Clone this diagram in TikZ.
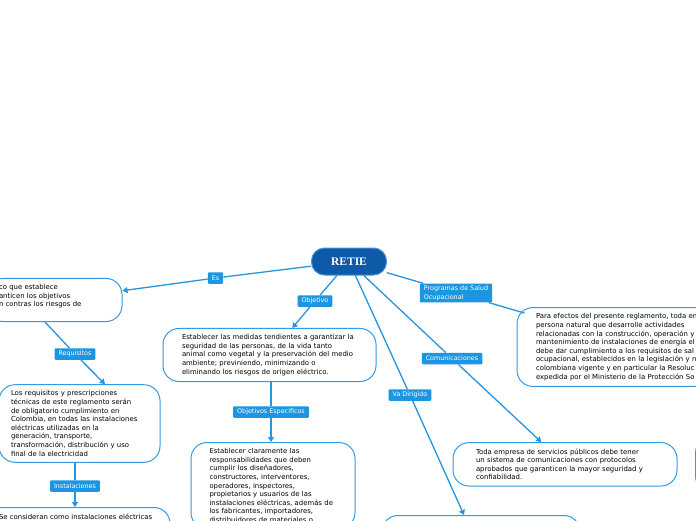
\documentclass[tikz,border=0pt]{standalone}
\usepackage{fontspec}
\setmainfont{DejaVu Sans}
\newfontfamily\retieserif{Liberation Serif}
\usetikzlibrary{arrows.meta,calc}
\definecolor{lineblue}{RGB}{35,150,225}
\definecolor{nodeblue}{RGB}{50,155,230}
\definecolor{tagblue}{RGB}{28,150,225}
\definecolor{retieblue}{RGB}{14,90,168}
\definecolor{retieline}{RGB}{70,145,215}
\newcommand{\ideafont}{\fontsize{6.9}{8.6}\selectfont}
\newcommand{\tagfont}{\fontsize{6.4}{8.6}\selectfont}
\newcommand{\retiefont}{\retieserif\bfseries\fontsize{11.5}{12}\selectfont}
\begin{document}
\begin{tikzpicture}[x=1pt,y=-1pt,
  idea/.style={draw=nodeblue,fill=white,line width=1pt,rounded corners=16pt,font=\ideafont,align=left,inner ysep=6pt},
  tag/.style={fill=tagblue,text=white,font=\tagfont,inner xsep=4pt,inner ysep=2pt,minimum height=11.5pt,rounded corners=1pt},
  link/.style={draw=lineblue,line width=1.3pt},
  pfeil/.style={link,-{Triangle[length=5pt,width=6pt]}}]
  \useasboundingbox (0,0) rectangle (696,520);
  \fill[white] (0,0) rectangle (696,520);
  \clip (0,0) rectangle (696,520);
  % Hauptknoten
  \node[fill=retieblue,draw=retieline,line width=1pt,rounded corners=13pt,minimum width=75pt,minimum height=27pt,text=white,font=\retiefont] (retie) at (349,261.5) {RETIE};
  % Kästen
  \node[idea,text width=111pt,inner xsep=12pt] (tecnico) at (54.5,300)
   {co que establece\\anticen los objetivos\\n contras los riesgos de\\\mbox{}};
  \node[idea,text width=137pt,inner xsep=12pt] (requisitos) at (79.5,423.5)
   {Los requisitos y prescripciones\\técnicas de este reglamento serán\\de obligatorio cumplimiento en\\Colombia, en todas las instalaciones\\eléctricas utilizadas en la\\generación, transporte,\\transformación, distribución y uso\\final de la electricidad};
  \node[idea,text width=155pt,inner xsep=16pt,anchor=north] (instbox) at (76.5,507)
   {Se consideran como instalaciones eléctricas\\\mbox{}\\\mbox{}};
  \node[idea,text width=175pt,inner xsep=19pt] (objetivo) at (269.5,355)
   {Establecer las medidas tendientes a garantizar la\\seguridad de las personas, de la vida tanto\\animal como vegetal y la preservación del medio\\ambiente; previniendo, minimizando o\\eliminando los riesgos de origen eléctrico.};
  \node[idea,text width=127pt,inner xsep=18.5pt,anchor=north] (especificos) at (273,442)
   {Establecer claramente las\\responsabilidades que deben\\cumplir los diseñadores,\\constructores, interventores,\\operadores, inspectores,\\propietarios y usuarios de las\\instalaciones eléctricas, además de\\los fabricantes, importadores,\\distribuidores de materiales o};
  \node[idea,text width=260pt,inner xsep=19pt] (salud) at (666,347)
   {Para efectos del presente reglamento, toda em\\persona natural que desarrolle actividades\\relacionadas con la construcción, operación y\\mantenimiento de instalaciones de energía el\\debe dar cumplimiento a los requisitos de sal\\ocupacional, establecidos en la legislación y n\\colombiana vigente y en particular la Resoluc\\expedida por el Ministerio de la Protección So};
  \node[idea,text width=178pt,inner xsep=23pt] (comunic) at (565,464.3)
   {Toda empresa de servicios públicos debe tener\\un sistema de comunicaciones con protocolos\\aprobados que garanticen la mayor seguridad y\\confiabilidad.};
  \node[idea,minimum width=198pt,minimum height=40pt,anchor=north] (dirigido) at (481,515) {};
  \node[idea,minimum width=60pt,minimum height=55pt,anchor=west] (rechts) at (695,464.5) {};
  % Beschriftungen
  \node[tag] (es) at (215.5,278) {Es};
  \node[tag] (objlbl) at (315,301) {Objetivo};
  \node[tag] (reqlbl) at (75,354) {Requisitos};
  \node[tag] (instlbl) at (75,486) {Instalaciones};
  \node[tag] (especlbl) at (271,412) {Objetivos Especificos};
  \node[tag,align=left] (saludlbl) at (456,293) {Programas de Salud\\Ocupacional};
  \node[tag] (commlbl) at (452,358.5) {Comunicaciones};
  \node[tag] (dirlbl) at (410,395) {Va Dirigido};
  % Verbindungen
  \foreach \lbl in {es,objlbl,saludlbl,commlbl,dirlbl}
   \draw[link] (retie) -- (\lbl);
  \draw[pfeil] (es) -- (tecnico);
  \draw[pfeil] (objlbl) -- (objetivo);
  \draw[link] (saludlbl) -- ($(salud.north west)+(8,6)$);
  \draw[pfeil] (commlbl) -- (comunic);
  \draw[pfeil] (dirlbl) -- ($(dirigido.north)+(-17,0)$);
  \draw[link] ($(tecnico.south)+(-9.5,0)$) -- (reqlbl);
  \draw[pfeil] (reqlbl) -- ($(requisitos.north)+(25.5,0)$);
  \draw[link] (requisitos.south -| instlbl) -- (instlbl);
  \draw[pfeil] (instlbl) -- (instlbl |- instbox.north);
  \draw[link] (objetivo.south -| especlbl) -- (especlbl);
  \draw[pfeil] (especlbl) -- (especlbl |- especificos.north);
\end{tikzpicture}
\end{document}
